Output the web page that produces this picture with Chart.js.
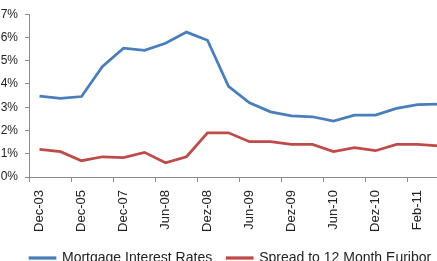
<!DOCTYPE html>
<html lang="en">
<head>
  <meta charset="UTF-8" />
  <title>Mortgage Interest Rates</title>
  <script src="https://cdn.jsdelivr.net/npm/chart.js@4"></script>
  <style>
    html, body {
      margin: 0;
      padding: 0;
      background: #fff;
      width: 437px;
      height: 261px;
      overflow: hidden;
    }
    #chart {
      position: absolute;
      left: 0;
      top: 0;
    }
  </style>
</head>
<body>
  <canvas id="chart" width="470" height="275"></canvas>

  <script>
    // every other label is shown on the axis
    const categories = ['Dec-03', 'Dec-04', 'Dec-05', 'Dec-06', 'Dec-07', 'Mar-08', 'Jun-08', 'Sep-08',
      'Dez-08', 'Mar-09', 'Jun-09', 'Sep-09', 'Dez-09', 'Mar-10', 'Jun-10', 'Sep-10',
      'Dez-10', 'Jan-11', 'Feb-11', 'Mar-11'];
    const mortgageRates = [3.48, 3.38, 3.46, 4.75, 5.54, 5.45, 5.75, 6.23, 5.88, 3.90,
      3.19, 2.80, 2.63, 2.59, 2.40, 2.66, 2.66, 2.95, 3.11, 3.13];
    const euriborSpread = [1.19, 1.09, 0.70, 0.87, 0.83, 1.06, 0.61, 0.87, 1.90, 1.90,
      1.52, 1.52, 1.40, 1.40, 1.09, 1.26, 1.13, 1.40, 1.40, 1.34];
    const yTicks = [0, 1, 2, 3, 4, 5, 6, 7];

    const axisColor = '#8c8c8c';
    const font = 'Liberation Sans, Arial, sans-serif';

    // nudge the legend to the right, like the original
    const legendShift = {
      id: 'legendShift',
      afterLayout(chart) {
        chart.legend.left += 15;
        chart.legend.right += 15;
      }
    };

    new Chart(document.getElementById('chart'), {
      type: 'line',
      data: {
        labels: categories,
        datasets: [
          {
            label: 'Mortgage Interest Rates',
            data: mortgageRates,
            borderColor: '#4a7ebb',
            backgroundColor: '#4a7ebb',
            borderWidth: 2.75,
            pointRadius: 0,
            tension: 0
          },
          {
            label: 'Spread to 12 Month Euribor',
            data: euriborSpread,
            borderColor: '#be4b48',
            backgroundColor: '#be4b48',
            borderWidth: 2.75,
            pointRadius: 0,
            tension: 0
          }
        ]
      },
      plugins: [legendShift],
      options: {
        responsive: false,
        animation: false,
        layout: { padding: { top: 14, right: 21, left: 0, bottom: 0 } },
        plugins: {
          tooltip: { enabled: false },
          legend: {
            position: 'bottom',
            align: 'start',
            labels: {
              boxWidth: 25,
              boxHeight: 0.5,
              padding: 15,
              color: '#222',
              font: { family: font, size: 14 }
            }
          }
        },
        scales: {
          x: {
            offset: true,
            grid: {
              offset: true,
              drawOnChartArea: false,
              tickLength: 5,
              color: ctx => ctx.index % 2 === 0 ? axisColor : 'rgba(0,0,0,0)'
            },
            border: { color: axisColor },
            ticks: {
              autoSkip: false,
              minRotation: 90,
              maxRotation: 90,
              padding: 8,
              color: '#222',
              font: { family: font, size: 13 },
              callback: function (value, index) {
                return index % 2 === 0 ? this.getLabelForValue(value) : '';
              }
            },
            afterFit: scale => { scale.height = 59; }
          },
          y: {
            min: yTicks[0],
            max: yTicks[yTicks.length - 1],
            afterBuildTicks: scale => { scale.ticks = yTicks.map(v => ({ value: v })); },
            grid: { drawOnChartArea: false, tickLength: 4, color: axisColor },
            border: { color: axisColor },
            ticks: {
              padding: 7,
              color: '#222',
              font: { family: font, size: 12 },
              callback: v => v + '%'
            },
            afterFit: scale => { scale.width = 29; }
          }
        }
      }
    });
  </script>
</body>
</html>
